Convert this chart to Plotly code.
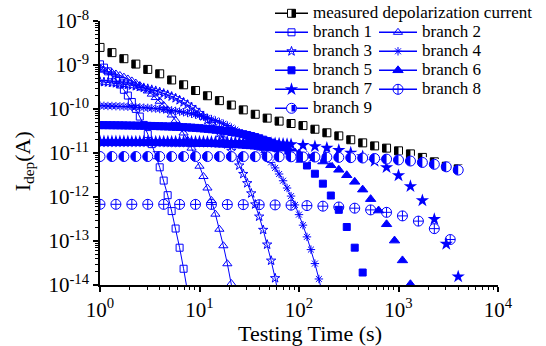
import plotly.graph_objects as go

FONT = "Liberation Serif, Times New Roman, serif"
BLUE = "#0000FF"

# common time grid (s)
T = [1.000, 1.096, 1.202, 1.318, 1.445, 1.585, 1.738, 1.905, 2.089, 2.291,
     2.512, 2.754, 3.020, 3.311, 3.631, 3.981, 4.365, 4.786, 5.248, 5.754,
     6.310, 6.918, 7.586, 8.318, 9.120, 10.00, 10.96, 12.02, 13.18, 14.45,
     15.85, 17.38, 19.05, 20.89, 22.91, 25.12, 27.54, 30.20, 33.11, 36.31,
     39.81, 43.65, 47.86, 52.48, 57.54, 63.10, 69.18, 75.86, 83.18, 91.20,
     100.0, 109.6, 120.2, 131.8, 144.5, 158.5, 173.8, 190.5, 208.9, 229.1,
     251.2, 275.4, 302.0, 331.1, 363.1, 398.1, 436.5, 478.6, 524.8, 575.4,
     631.0, 691.8, 758.6, 831.8, 912.0, 1000, 1096, 1202, 1318, 1445,
     1585, 1738, 1905, 2089, 2291, 2512, 2754, 3020, 3311, 3631,
     3981, 4365]

t_meas = T[0:91:3]
i_meas = [2.51e-9, 1.91e-9, 1.39e-9, 1.05e-9, 7.94e-10, 6.31e-10, 4.57e-10, 3.55e-10,
          2.63e-10, 2.00e-10, 1.55e-10, 1.23e-10, 9.55e-11, 7.59e-11, 6.20e-11, 5.30e-11,
          4.68e-11, 4.20e-11, 3.47e-11, 2.88e-11, 2.45e-11, 2.00e-11, 1.70e-11, 1.45e-11,
          1.29e-11, 1.12e-11, 9.55e-12, 7.94e-12, 6.31e-12, 5.01e-12, 4.37e-12]

t_b1 = T[0:23]
i_b1 = [1.035e-9, 8.71e-10, 7.18e-10, 5.82e-10, 4.63e-10, 3.60e-10, 2.73e-10, 2.02e-10,
        1.445e-10, 1.005e-10, 6.73e-11, 4.35e-11, 2.69e-11, 1.59e-11, 8.91e-12, 4.73e-12,
        2.36e-12, 1.10e-12, 4.79e-13, 1.92e-13, 7.03e-14, 2.34e-14, 7.0e-15]

t_b2 = T[0:35]
i_b2 = [8.04e-10, 7.61e-10, 7.17e-10, 6.71e-10, 6.25e-10, 5.78e-10, 5.30e-10, 4.82e-10,
        4.35e-10, 3.88e-10, 3.43e-10, 2.99e-10, 2.57e-10, 2.18e-10, 1.82e-10, 1.50e-10,
        1.21e-10, 9.48e-11, 7.31e-11, 5.50e-11, 4.02e-11, 2.85e-11, 1.95e-11, 1.29e-11,
        8.24e-12, 5.01e-12, 2.92e-12, 1.60e-12, 8.34e-13, 4.07e-13, 1.85e-13, 7.80e-14,
        3.04e-14, 1.08e-14, 3.44e-15]

t_b3 = T[0:46]
i_b3 = [4.18e-10, 4.10e-10, 4.03e-10, 3.94e-10, 3.85e-10, 3.76e-10, 3.66e-10, 3.55e-10,
        3.43e-10, 3.30e-10, 3.18e-10, 3.03e-10, 2.89e-10, 2.74e-10, 2.59e-10, 2.43e-10,
        2.26e-10, 2.10e-10, 1.93e-10, 1.76e-10, 1.59e-10, 1.42e-10, 1.26e-10, 1.10e-10,
        9.55e-11, 8.13e-11, 6.82e-11, 5.62e-11, 4.56e-11, 3.61e-11, 2.81e-11, 2.12e-11,
        1.57e-11, 1.12e-11, 7.76e-12, 5.20e-12, 3.34e-12, 2.06e-12, 1.21e-12, 6.79e-13,
        3.59e-13, 1.79e-13, 8.30e-14, 3.58e-14, 1.43e-14, 5.19e-15]

t_b4 = T[0:57]
i_b4 = [1.19e-10, 1.18e-10, 1.17e-10, 1.17e-10, 1.16e-10, 1.15e-10, 1.14e-10, 1.13e-10,
        1.12e-10, 1.10e-10, 1.09e-10, 1.07e-10, 1.06e-10, 1.04e-10, 1.02e-10, 1.00e-10,
        9.79e-11, 9.55e-11, 9.31e-11, 9.04e-11, 8.75e-11, 8.45e-11, 8.13e-11, 7.80e-11,
        7.45e-11, 7.08e-11, 6.70e-11, 6.30e-11, 5.89e-11, 5.48e-11, 5.06e-11, 4.62e-11,
        4.21e-11, 3.78e-11, 3.37e-11, 2.96e-11, 2.58e-11, 2.21e-11, 1.87e-11, 1.56e-11,
        1.27e-11, 1.02e-11, 8.00e-12, 6.14e-12, 4.58e-12, 3.33e-12, 2.34e-12, 1.60e-12,
        1.05e-12, 6.61e-13, 3.98e-13, 2.29e-13, 1.24e-13, 6.38e-14, 3.07e-14, 1.37e-14,
        5.69e-15]

t_b5 = T[0:51] + T[52:69:2]
i_b5 = [4.29e-11, 4.29e-11, 4.28e-11, 4.27e-11, 4.26e-11, 4.25e-11, 4.24e-11, 4.22e-11,
        4.21e-11, 4.19e-11, 4.18e-11, 4.16e-11, 4.14e-11, 4.12e-11, 4.09e-11, 4.06e-11,
        4.04e-11, 4.01e-11, 3.98e-11, 3.94e-11, 3.90e-11, 3.86e-11, 3.82e-11, 3.77e-11,
        3.72e-11, 3.66e-11, 3.60e-11, 3.53e-11, 3.46e-11, 3.38e-11, 3.30e-11, 3.21e-11,
        3.12e-11, 3.01e-11, 2.91e-11, 2.80e-11, 2.68e-11, 2.56e-11, 2.43e-11, 2.30e-11,
        2.16e-11, 2.01e-11, 1.87e-11, 1.72e-11, 1.58e-11, 1.43e-11, 1.28e-11, 1.14e-11,
        1.00e-11, 8.69e-12, 7.43e-12,
        5.20e-12, 3.38e-12, 2.01e-12, 1.08e-12, 5.11e-13, 2.08e-13, 7.05e-14, 1.92e-14,
        4.02e-15]

t_b6 = T[0:51] + T[52:81:2]
i_b6 = [1.69e-11, 1.69e-11, 1.69e-11, 1.69e-11, 1.68e-11, 1.68e-11, 1.68e-11, 1.68e-11,
        1.68e-11, 1.67e-11, 1.67e-11, 1.67e-11, 1.67e-11, 1.67e-11, 1.66e-11, 1.66e-11,
        1.66e-11, 1.65e-11, 1.65e-11, 1.64e-11, 1.64e-11, 1.63e-11, 1.63e-11, 1.62e-11,
        1.61e-11, 1.61e-11, 1.60e-11, 1.59e-11, 1.58e-11, 1.57e-11, 1.55e-11, 1.54e-11,
        1.53e-11, 1.51e-11, 1.49e-11, 1.48e-11, 1.46e-11, 1.43e-11, 1.41e-11, 1.39e-11,
        1.36e-11, 1.33e-11, 1.30e-11, 1.26e-11, 1.23e-11, 1.19e-11, 1.15e-11, 1.11e-11,
        1.06e-11, 1.02e-11, 9.68e-12,
        8.65e-12, 7.55e-12, 6.40e-12, 5.26e-12, 4.15e-12, 3.12e-12, 2.21e-12, 1.47e-12,
        8.93e-13, 4.92e-13, 2.40e-13, 1.02e-13, 3.62e-14, 1.04e-14, 2.33e-15]

t_b7 = T[0:49] + T[51:91:3]
i_b7 = [1.82e-11, 1.82e-11, 1.82e-11, 1.82e-11, 1.82e-11, 1.82e-11, 1.82e-11, 1.82e-11,
        1.81e-11, 1.81e-11, 1.81e-11, 1.81e-11, 1.81e-11, 1.81e-11, 1.81e-11, 1.81e-11,
        1.81e-11, 1.80e-11, 1.80e-11, 1.80e-11, 1.80e-11, 1.80e-11, 1.80e-11, 1.80e-11,
        1.79e-11, 1.79e-11, 1.79e-11, 1.78e-11, 1.78e-11, 1.77e-11, 1.77e-11, 1.77e-11,
        1.76e-11, 1.75e-11, 1.75e-11, 1.74e-11, 1.73e-11, 1.73e-11, 1.71e-11, 1.71e-11,
        1.69e-11, 1.68e-11, 1.67e-11, 1.66e-11, 1.64e-11, 1.63e-11, 1.61e-11, 1.59e-11,
        1.57e-11,
        1.50e-11, 1.41e-11, 1.30e-11, 1.16e-11, 1.01e-11, 8.38e-12, 6.55e-12, 4.73e-12,
        3.08e-12, 1.75e-12, 8.32e-13, 3.12e-13, 8.55e-14, 1.55e-14]

t_b8 = T[0:89:4]
i_b8 = [6.82e-13, 6.82e-13, 6.81e-13, 6.81e-13, 6.81e-13, 6.79e-13, 6.79e-13, 6.78e-13,
        6.75e-13, 6.71e-13, 6.67e-13, 6.61e-13, 6.52e-13, 6.38e-13, 6.19e-13, 5.93e-13,
        5.57e-13, 5.09e-13, 4.48e-13, 3.72e-13, 2.83e-13, 1.91e-13, 1.08e-13]

t_b9 = T[0:91:3]
i_b9 = [8.32e-12, 8.32e-12, 8.32e-12, 8.32e-12, 8.31e-12, 8.31e-12, 8.31e-12, 8.31e-12,
        8.30e-12, 8.30e-12, 8.29e-12, 8.29e-12, 8.28e-12, 8.26e-12, 8.25e-12, 8.22e-12,
        8.19e-12, 8.15e-12, 8.10e-12, 8.03e-12, 7.94e-12, 7.83e-12, 7.69e-12, 7.50e-12,
        7.26e-12, 6.96e-12, 6.57e-12, 6.10e-12, 5.53e-12, 4.85e-12, 4.09e-12]

x_tickvals = [1, 10, 100, 1000, 10000]
x_ticktext = ["10<sup>0</sup>", "10<sup>1</sup>", "10<sup>2</sup>", "10<sup>3</sup>", "10<sup>4</sup>"]
y_tickvals = [1e-14, 1e-13, 1e-12, 1e-11, 1e-10, 1e-9, 1e-8]
y_ticktext = ["10<sup>-14</sup>", "10<sup>-13</sup>", "10<sup>-12</sup>", "10<sup>-11</sup>",
              "10<sup>-10</sup>", "10<sup>-9</sup>", "10<sup>-8</sup>"]

fig = go.Figure()


def series(t, i, symbol, size, lines=False, color=BLUE, lw=1):
    fig.add_trace(go.Scatter(
        x=t, y=i, mode="lines+markers" if lines else "markers",
        line=dict(color=color, width=1),
        marker=dict(symbol=symbol, size=size, color=color, line=dict(color=color, width=lw)),
        showlegend=False, hoverinfo="skip"))


# measured: half-filled black squares (white square + left black half)
fig.add_trace(go.Scatter(x=t_meas, y=i_meas, mode="markers", showlegend=False, hoverinfo="skip",
                         marker=dict(symbol="square", size=8, color="white",
                                     line=dict(color="black", width=1))))
fig.add_trace(go.Scatter(x=t_meas, y=i_meas, mode="markers", showlegend=False, hoverinfo="skip",
                         marker=dict(symbol="line-ew", size=8 / 1.4, color="black", angle=90, standoff=2,
                                     line=dict(color="black", width=4))))

series(t_b1, i_b1, "square-open", 7, lines=True)
series(t_b2, i_b2, "triangle-up-open", 8, lines=True)
series(t_b3, i_b3, "star-open", 7, lines=True)
series(t_b4, i_b4, "asterisk-open", 7, lines=True)
series(t_b5, i_b5, "square", 7)
series(t_b6, i_b6, "triangle-up", 9)
series(t_b7, i_b7, "star", 10, lw=0)
series(t_b8, i_b8, "circle-cross-open", 10)

# branch 9: half-filled circles
fig.add_trace(go.Scatter(x=t_b9, y=i_b9, mode="markers", showlegend=False, hoverinfo="skip",
                         marker=dict(symbol="circle", size=10, color=BLUE, line=dict(width=0))))
fig.add_trace(go.Scatter(x=t_b9, y=i_b9, mode="markers", showlegend=False, hoverinfo="skip",
                         marker=dict(symbol="line-ew", size=10.6 / 1.4, color="white", angle=-90,
                                     standoff=2.6, line=dict(color="white", width=5.2))))
fig.add_trace(go.Scatter(x=t_b9, y=i_b9, mode="markers", showlegend=False, hoverinfo="skip",
                         marker=dict(symbol="circle-open", size=10, color=BLUE, line=dict(color=BLUE, width=1))))


def leg(name, legend, symbol, size, color=BLUE, mcolor=None, lcolor=None, mode="lines+markers", **mk):
    fig.add_trace(go.Scatter(
        x=[None], y=[None], mode=mode, name='<span style="font-size:17px">%s</span>' % name if name else "",
        legend=legend, showlegend=True,
        line=dict(color=color, width=1.5),
        marker=dict(symbol=symbol, size=size, color=mcolor or color,
                    line=dict(color=lcolor or color, width=mk.pop("mlw", 1)), **mk)))


leg("measured depolarization current", "legend", "square", 8, color="black", mcolor="white", lcolor="black")
leg("branch 1", "legend", "square-open", 7)
leg("branch 3", "legend", "star-open", 7)
leg("branch 5", "legend", "square", 7)
leg("branch 7", "legend", "star", 10, mlw=0)
leg("branch 9", "legend", "circle", 10, mcolor="white", lcolor=BLUE)
leg("branch 2", "legend2", "triangle-up-open", 8)
leg("branch 4", "legend2", "asterisk-open", 7)
leg("branch 6", "legend2", "triangle-up", 9)
leg("branch 8", "legend2", "circle-cross-open", 10)
# overlays giving the half-filled legend symbols
leg("", "legend3", "line-ew", 8 / 1.4, color="black", mode="markers", mlw=4, angle=90, standoff=2)
leg("", "legend4", "line-ew", 6.4 / 1.4, color=BLUE, mode="markers", mlw=4, angle=90, standoff=2)

PX_L, PX_R, PX_T, PX_B = 100, 498, 21, 285
W, H = PX_R - PX_L, PX_B - PX_T


def px2paper(px, py):
    return (px - PX_L) / W, (PX_B - py) / H


lg_common = dict(bgcolor="rgba(0,0,0,0)", borderwidth=0, xanchor="left", yanchor="top",
                 font=dict(family=FONT, size=12, color="black"), tracegroupgap=0)
x1, y1 = px2paper(270, -1.2)
x2, y2 = px2paper(374, 17.8)
x4, y4 = px2paper(270, -1.2 + 5 * 19)

axis_common = dict(
    type="log", showline=True, linecolor="black", linewidth=1.5, mirror=False,
    ticks="outside", ticklen=5, tickwidth=1.5, tickcolor="black",
    showgrid=False, zeroline=False, tickmode="array",
    tickfont=dict(family=FONT, size=21, color="black"),
)

minor_x = [m * 10 ** e for e in range(0, 4) for m in range(2, 10)]
minor_y = [m * 10.0 ** e for e in range(-14, -8) for m in range(2, 10)]

fig.update_layout(
    width=546, height=346,
    margin=dict(l=PX_L, r=546 - PX_R, t=PX_T, b=346 - PX_B, autoexpand=False),
    paper_bgcolor="white", plot_bgcolor="white",
    font=dict(family=FONT, color="black"),
    xaxis=dict(range=[0, 4], tickvals=x_tickvals, ticktext=x_ticktext,
               minor=dict(tickmode="array", tickvals=minor_x, ticks="outside", ticklen=3,
                          tickwidth=1.2, tickcolor="black", showgrid=False),
               title=dict(text="&nbsp;" * 4 + "Testing Time (s)",
                          font=dict(family=FONT, size=22, color="black"), standoff=4),
               **axis_common),
    yaxis=dict(range=[-14, -8], tickvals=y_tickvals, ticktext=y_ticktext,
               minor=dict(tickmode="array", tickvals=minor_y, ticks="outside", ticklen=3,
                          tickwidth=1.2, tickcolor="black", showgrid=False),
               title=dict(text="I<sub>dep</sub>(A)" + "&nbsp;" * 3,
                          font=dict(family=FONT, size=22, color="black"), standoff=12),
               **axis_common),
    legend=dict(x=x1, y=y1, itemwidth=33, **lg_common),
    legend2=dict(x=x2, y=y2, itemwidth=38, **lg_common),
    legend3=dict(x=x1, y=y1, itemwidth=33, **lg_common),
    legend4=dict(x=x4, y=y4, itemwidth=33, **lg_common),
    showlegend=True,
)

fig.write_html("out.html")
